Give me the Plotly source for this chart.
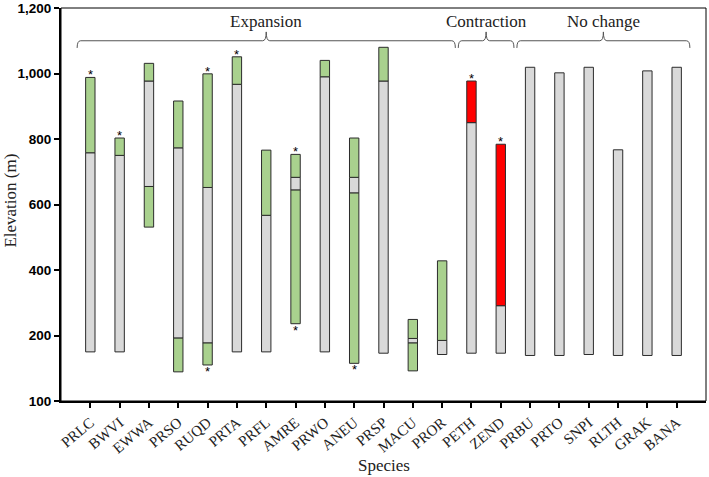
import plotly.graph_objects as go

species = ["PRLC", "BWVI", "EWWA", "PRSO", "RUQD", "PRTA", "PRFL", "AMRE", "PRWO", "ANEU",
           "PRSP", "MACU", "PROR", "PETH", "ZEND", "PRBU", "PRTO", "SNPI", "RLTH", "GRAK", "BANA"]

# segment boundaries (bottom -> top) for each species, and the type of each segment
boundaries = [
    [150, 758, 988],
    [150, 750, 803],
    [531, 655, 977, 1031],
    [89, 192, 773, 916],
    [110, 177, 652, 999],
    [150, 967, 1051],
    [150, 567, 766],
    [236, 644, 683, 753],
    [150, 990, 1040],
    [115, 635, 683, 803],
    [146, 977, 1080],
    [92, 177, 191, 249],
    [142, 185, 428],
    [146, 850, 977],
    [146, 291, 784],
    [139, 1019],
    [139, 1002],
    [142, 1019],
    [139, 767],
    [139, 1008],
    [139, 1019],
]
segment_types = [
    ["core", "gain"],
    ["core", "gain"],
    ["gain", "core", "gain"],
    ["gain", "core", "gain"],
    ["gain", "core", "gain"],
    ["core", "gain"],
    ["core", "gain"],
    ["gain", "core", "gain"],
    ["core", "gain"],
    ["gain", "core", "gain"],
    ["core", "gain"],
    ["gain", "core", "gain"],
    ["core", "gain"],
    ["core", "loss"],
    ["core", "loss"],
    ["core"], ["core"], ["core"], ["core"], ["core"], ["core"],
]
star_top = ["PRLC", "BWVI", "RUQD", "PRTA", "AMRE", "PETH", "ZEND"]
star_bottom = ["RUQD", "AMRE", "ANEU"]

group_names = ["Expansion", "Contraction", "No change"]
group_first = ["PRLC", "PETH", "PRBU"]
group_last = ["PROR", "ZEND", "BANA"]

y_tickvals = [0, 200, 400, 600, 800, 1000, 1200]
y_ticktext = ["100", "200", "400", "600", "800", "1,000", "1,200"]

colors = {"core": "#d9d9d9", "gain": "#a9d18e", "loss": "#ff0000"}
idx = {s: i for i, s in enumerate(species)}

fig = go.Figure()
for kind in ["core", "gain", "loss"]:
    xs, bases, hs = [], [], []
    for s, b, t in zip(species, boundaries, segment_types):
        for k, typ in enumerate(t):
            if typ == kind:
                xs.append(s)
                bases.append(b[k])
                hs.append(b[k + 1] - b[k])
    fig.add_trace(go.Bar(x=xs, y=hs, base=bases, width=0.32,
                         marker=dict(color=colors[kind], line=dict(color="#2b2b2b", width=1)),
                         showlegend=False))

annotations = []
for s in star_top:
    annotations.append(dict(x=s, y=boundaries[idx[s]][-1], xref="x", yref="y", text="*",
                            showarrow=False, yanchor="bottom", yshift=-7,
                            font=dict(size=13, color="black", family="Liberation Sans")))
for s in star_bottom:
    annotations.append(dict(x=s, y=boundaries[idx[s]][0], xref="x", yref="y", text="*",
                            showarrow=False, yanchor="top", yshift=3,
                            font=dict(size=13, color="black", family="Liberation Sans")))

# group brackets
shapes = []
for name, a, b in zip(group_names, group_first, group_last):
    x0 = idx[a] - 0.45
    x1 = idx[b] + 0.45
    xm = (x0 + x1) / 2
    yb, yh, yt = 1078, 1100, 1127
    r = 0.12
    path = (f"M {x0},{yb} Q {x0},{yh} {x0 + r},{yh} L {xm - r},{yh} Q {xm},{yh} {xm},{yt} "
            f"Q {xm},{yh} {xm + r},{yh} L {x1 - r},{yh} Q {x1},{yh} {x1},{yb}")
    shapes.append(dict(type="path", path=path, xref="x", yref="y",
                       line=dict(color="#555555", width=1)))
    annotations.append(dict(x=xm, y=1160, xref="x", yref="y", text=name, showarrow=False,
                            font=dict(family="Liberation Serif", size=17, color="#222")))

# axis titles
annotations.append(dict(x=0.5, y=-0.165, xref="paper", yref="paper", yanchor="middle",
                        text="Species", showarrow=False,
                        font=dict(family="Liberation Serif", size=17, color="#222")))
annotations.append(dict(x=-0.0775, y=0.51, xref="paper", yref="paper", xanchor="center",
                        yanchor="middle", text="Elevation (m)", showarrow=False, textangle=-90,
                        font=dict(family="Liberation Serif", size=17, color="#222")))

# frame
shapes.append(dict(type="rect", xref="paper", yref="paper", x0=0, x1=1, y0=0, y1=1,
                   line=dict(color="black", width=1), layer="above"))

fig.update_layout(
    width=709, height=477,
    margin=dict(l=61, r=3, t=8, b=76),
    plot_bgcolor="white", paper_bgcolor="white",
    barmode="overlay",
    shapes=shapes, annotations=annotations,
    xaxis=dict(range=[-1, 21], showline=True, linecolor="black", linewidth=2,
               ticks="outside", ticklen=5, tickcolor="black", tickwidth=1.5,
               tickangle=-40, tickfont=dict(family="Liberation Serif", size=15, color="#222"),
               automargin=False, showgrid=False, zeroline=False),
    yaxis=dict(range=[0, 1200], showline=True, linecolor="black", linewidth=2,
               ticks="outside", ticklen=5, tickcolor="black", tickwidth=1.5,
               tickvals=y_tickvals, ticktext=y_ticktext,
               tickfont=dict(family="Liberation Sans", size=13.5, color="black", weight="bold"),
               automargin=False, showgrid=False, zeroline=False),
)

fig.write_html("out.html", config={"displayModeBar": False},
               post_script="document.body.style.margin='0';document.body.style.overflow='hidden';")
